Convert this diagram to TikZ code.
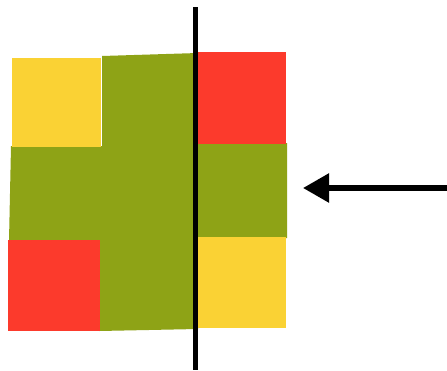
\documentclass[tikz,border=0pt]{standalone}
\usetikzlibrary{arrows.meta}
\definecolor{ogreen}{RGB}{142,163,22}
\definecolor{tyellow}{RGB}{250,210,52}
\definecolor{tred}{RGB}{252,58,44}
\tikzset{
  blackline/.style={line width=5pt, black},
}
\begin{document}
\begin{tikzpicture}[x=1pt,y=-1pt]
\useasboundingbox[fill=white] (0,0) rectangle (447,370);
% green cross-shaped base
\fill[ogreen] (11,146) -- (102,146) -- (102,56) -- (198,53) -- (198,143) -- (287,143)
  -- (287,238) -- (198,238) -- (198,329) -- (99,331) -- (99,241) -- (9,241) -- cycle;
% corner squares
\fill[tyellow] (12,58) rectangle (101,147);
\fill[tred] (197,52) rectangle (286,144);
\fill[tred] (8,240) rectangle (100,331);
\fill[tyellow] (197,237) rectangle (286,328);
% vertical line
\coordinate (ltop) at (195,7);
\coordinate (lbot) at (195,370);
\draw[blackline] (ltop) -- (lbot);
% arrow
\coordinate (astart) at (447,188);
\coordinate (aend) at (303,188);
\draw[line width=5.5pt, black, -{Triangle[length=26pt,width=28pt]}] (astart) -- (aend);
\end{tikzpicture}
\end{document}
